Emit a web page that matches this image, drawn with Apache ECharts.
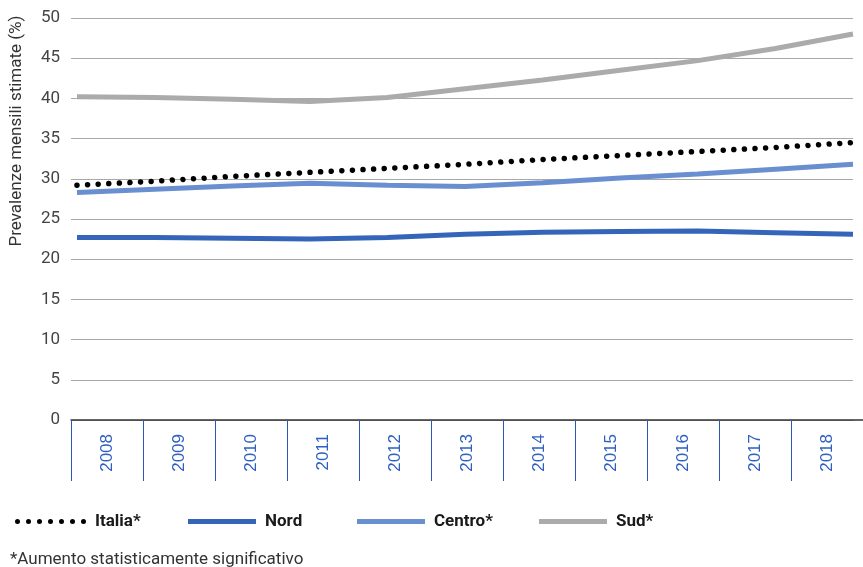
<!DOCTYPE html>
<html>
<head>
<meta charset="utf-8">
<script src="https://cdn.jsdelivr.net/npm/echarts@6/dist/echarts.min.js"></script>
<style>
html,body{margin:0;padding:0;background:#fff;}
#chart{width:863px;height:567px;}
</style>
</head>
<body>
<div id="chart"></div>
<script>
var years = [2008, 2009, 2010, 2011, 2012, 2013, 2014, 2015, 2016, 2017, 2018];
var yearLabels = ['2008','2009','2010','2011','2012','2013','2014','2015','2016','2017','2018'];
var italia = [29.2, 29.7, 30.3, 30.8, 31.3, 31.8, 32.4, 32.9, 33.4, 33.9, 34.5];
var nord   = [22.7, 22.7, 22.6, 22.5, 22.7, 23.1, 23.35, 23.45, 23.5, 23.3, 23.1];
var centro = [28.3, 28.7, 29.1, 29.45, 29.2, 29.05, 29.5, 30.1, 30.6, 31.2, 31.8];
var sud    = [40.2, 40.1, 39.9, 39.6, 40.1, 41.2, 42.3, 43.5, 44.7, 46.2, 48.0];
var yTicks = [0, 5, 10, 15, 20, 25, 30, 35, 40, 45, 50];
var seriesNames = ['Italia*', 'Nord', 'Centro*', 'Sud*'];

function pairs(vals){ return years.map(function(y,i){ return [y, vals[i]]; }); }

var dotsIcon = 'path://' + [0,1,2,3,4,5,6].map(function(k){
  var cx = 2.5 + 11 * k;
  return 'M' + (cx - 2.5) + ',2.5a2.5,2.5 0 1,0 5,0a2.5,2.5 0 1,0 -5,0';
}).join('');

var FONT = 'Roboto, "DejaVu Sans", sans-serif';
var legendText = {fontSize: 17, fontWeight: 'bold', color: '#1a1a1a', fontFamily: FONT, padding: [0, 0, 0, 4]};
var chart = echarts.init(document.getElementById('chart'), null, {renderer:'canvas'});
var option = {
  animation: false,
  backgroundColor: '#ffffff',
  grid: [
    {left: 71, right: 10, top: 18, bottom: 147},
    {left: 71, right: 0, top: 18, bottom: 147}
  ],
  xAxis: [
    {type: 'value', gridIndex: 0, min: 2007.923, max: 2018, show: false, splitLine: {show: false}},
    {type: 'category', gridIndex: 1, data: yearLabels, boundaryGap: true,
     axisLine: {show: true, lineStyle: {color: '#333333', width: 1.5}},
     axisTick: {show: true, length: 61, alignWithLabel: false, lineStyle: {color: '#2f58b5', width: 1}},
     axisLabel: {rotate: 90, margin: 14, color: '#2f5fc0', fontSize: 17, fontFamily: '"Liberation Sans", Arial, sans-serif'},
     splitLine: {show: false}}
  ],
  yAxis: [
    {type: 'value', gridIndex: 0, min: 0, max: 50, interval: 5,
     axisLine: {show: false}, axisTick: {show: false},
     axisLabel: {color: '#444444', fontSize: 17, margin: 11, fontFamily: FONT,
       formatter: function(v){ return yTicks.indexOf(v) >= 0 ? String(v) : ''; }},
     splitLine: {show: true, lineStyle: {color: '#a8a8a8', width: 1}}},
    {type: 'value', gridIndex: 1, min: 0, max: 50, interval: 5, show: false, splitLine: {show: false}}
  ],
  legend: [
    {data: [{name: 'Italia*', icon: dotsIcon}], left: 10, top: 508, itemWidth: 71, itemHeight: 5,
     itemStyle: {color: '#000000'}, textStyle: legendText},
    {data: [{name: 'Nord', icon: 'rect'}], left: 183, top: 508, itemWidth: 68, itemHeight: 5,
     textStyle: legendText},
    {data: [{name: 'Centro*', icon: 'rect'}], left: 352, top: 508, itemWidth: 68, itemHeight: 5,
     textStyle: legendText},
    {data: [{name: 'Sud*', icon: 'rect'}], left: 534, top: 508, itemWidth: 68, itemHeight: 5,
     textStyle: legendText}
  ],
  graphic: [
    {type: 'text', left: 10, top: 551,
     style: {text: '*Aumento statisticamente significativo', fill: '#333333', fontSize: 17, fontFamily: FONT}},
    {type: 'text', x: 17, y: 131, rotation: Math.PI/2,
     style: {text: 'Prevalenze mensili stimate (%)', fill: '#333333', fontSize: 17, fontFamily: FONT,
             align: 'center', verticalAlign: 'middle'}}
  ],
  series: [
    {name: seriesNames[3], type: 'line', xAxisIndex: 0, yAxisIndex: 0, data: pairs(sud),
     symbol: 'none', lineStyle: {color: '#ababab', width: 5}, itemStyle: {color: '#ababab'}, z: 3},
    {name: seriesNames[2], type: 'line', xAxisIndex: 0, yAxisIndex: 0, data: pairs(centro),
     symbol: 'none', lineStyle: {color: '#6a8fd0', width: 5}, itemStyle: {color: '#6a8fd0'}, z: 3},
    {name: seriesNames[1], type: 'line', xAxisIndex: 0, yAxisIndex: 0, data: pairs(nord),
     symbol: 'none', lineStyle: {color: '#3565b9', width: 5}, itemStyle: {color: '#3565b9'}, z: 3},
    {name: seriesNames[0], type: 'line', xAxisIndex: 0, yAxisIndex: 0, data: pairs(italia),
     symbol: 'none', lineStyle: {color: '#000000', width: 5.5, type: [0.01, 10.6], cap: 'round'},
     itemStyle: {color: '#000000'}, z: 4}
  ]
};
chart.setOption(option);
</script>
</body>
</html>
